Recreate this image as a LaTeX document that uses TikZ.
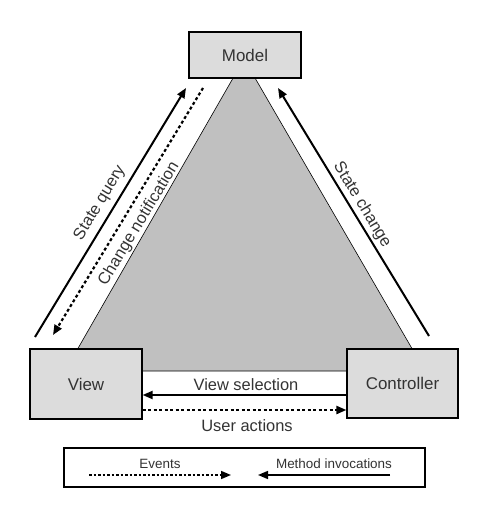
\documentclass[tikz,border=0pt]{standalone}
\usepackage{fontspec}
\setmainfont{Liberation Sans}
\usetikzlibrary{positioning, calc, arrows.meta}
\definecolor{boxgray}{HTML}{DCDCDC}
\definecolor{trigray}{HTML}{C0C0C0}
\definecolor{txtgray}{HTML}{333333}
\tikzset{
  mvcbox/.style={draw=black, line width=1.2bp, fill=boxgray, text=txtgray, font=\fontsize{17}{20}\selectfont},
  call/.style={line width=2bp, -{Triangle[length=10bp,width=8bp]}},
  evt/.style={line width=2.2bp, dash pattern=on 3bp off 2.5bp, -{Triangle[length=10bp,width=8bp]}},
  lbl/.style={text=txtgray, font=\fontsize{16.5}{19}\selectfont, inner sep=0pt},
  keylbl/.style={text=txtgray, font=\fontsize{13.5}{16}\selectfont, inner sep=0pt}
}
\begin{document}
\begin{tikzpicture}[x=1bp, y=-1bp]
    \useasboundingbox (0,0) rectangle (478,507);

    % Grey triangle behind the three boxes
    \filldraw[fill=trigray, draw=black, line width=0.6bp] (244,59) -- (65,371) -- (425,371) -- cycle;

    % The three boxes
    \node[mvcbox, minimum width=112bp, minimum height=46bp] (model) at (245,55) {Model};
    \node[mvcbox, minimum width=112bp, minimum height=70bp] (view) at (86,384) {View};
    \node[mvcbox, minimum width=111bp, minimum height=69bp] (ctrl) at (402.5,383.5) {Controller};

    % End points of the slanted arrows
    \coordinate (sqA) at (35,337);
    \coordinate (sqB) at (186,88);
    \coordinate (cnA) at (203,88);
    \coordinate (cnB) at (53,335);
    \coordinate (scA) at (429,336);
    \coordinate (scB) at (278,88);

    % View <-> Model
    \draw[call] (sqA) -- (sqB);
    \draw[evt] (cnA) -- (cnB);
    \node[lbl, rotate=58.8] (sqlbl) at (100,203) {State query};
    \node[lbl, rotate=58.8] (cnlbl) at (139,224) {Change notification};

    % Controller -> Model
    \draw[call] (scA) -- (scB);
    \node[lbl, rotate=-58.8] (sclbl) at (362,205) {State change};

    % Controller <-> View
    \draw[call] (ctrl.west |- 0,395) -- (view.east |- 0,395);
    \draw[evt] (view.east |- 0,410) -- (ctrl.west |- 0,410);
    \node[lbl] (vslbl) at (246,385) {View selection};
    \node[lbl] (ualbl) at (247,426) {User actions};

    % Legend
    \node[draw=black, line width=1.2bp, minimum width=361bp, minimum height=39bp] (key) at (244.5,467.5) {};
    \coordinate (evA) at (89,475);
    \coordinate (evB) at (231,475);
    \coordinate (miA) at (390,475);
    \coordinate (miB) at (258,475);
    \draw[evt, line width=1.6bp, dash pattern=on 2.5bp off 2bp] (evA) -- (evB);
    \draw[call, line width=1.6bp] (miA) -- (miB);
    \node[keylbl] (evlbl) at (160,464) {Events};
    \node[keylbl] (milbl) at (334,464) {Method invocations};

\end{tikzpicture}
\end{document}
